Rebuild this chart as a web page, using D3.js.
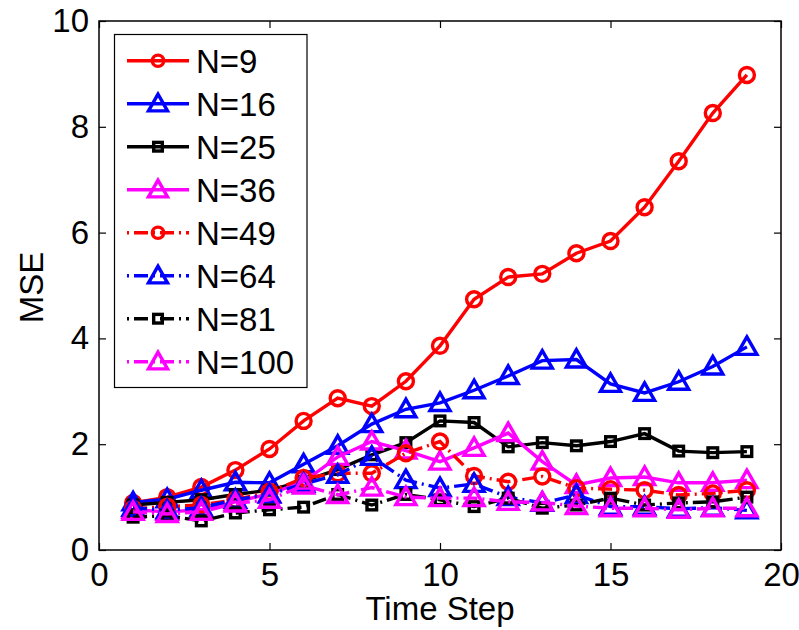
<!DOCTYPE html>
<html>
<head>
<meta charset="utf-8">
<script src="https://cdn.jsdelivr.net/npm/d3@7"></script>
<style>
  html, body { margin: 0; padding: 0; background: #fff; }
  svg { display: block; font-family: "Liberation Sans", Arial, Helvetica, sans-serif; }
</style>
</head>
<body>
<svg id="chart" width="799" height="630"></svg>
<script>
// ---- data ----
const timeSteps = [1,2,3,4,5,6,7,8,9,10,11,12,13,14,15,16,17,18,19];
const seriesNames = ["N=9","N=16","N=25","N=36","N=49","N=64","N=81","N=100"];
const n9   = [0.89,1.00,1.19,1.51,1.91,2.44,2.87,2.72,3.19,3.86,4.74,5.16,5.22,5.61,5.84,6.48,7.35,8.26,8.98];
const n16  = [0.90,0.96,1.13,1.28,1.27,1.62,1.97,2.38,2.66,2.78,3.02,3.29,3.58,3.60,3.14,2.97,3.18,3.47,3.84];
const n25  = [0.85,0.90,0.95,1.05,1.13,1.30,1.52,1.80,2.03,2.44,2.41,1.95,2.03,1.97,2.05,2.20,1.87,1.84,1.86];
const n36  = [0.76,0.72,0.76,0.91,1.06,1.29,1.76,2.05,1.88,1.67,1.93,2.21,1.67,1.23,1.36,1.38,1.27,1.27,1.32];
const n49  = [0.78,0.82,0.85,0.95,1.10,1.36,1.45,1.45,1.83,2.05,1.40,1.29,1.39,1.17,1.15,1.13,1.04,1.07,1.13];
const n64  = [0.80,0.75,0.80,0.95,1.05,1.25,1.42,1.76,1.32,1.17,1.25,1.00,0.89,1.04,0.82,0.82,0.78,0.80,0.75];
const n81  = [0.62,0.65,0.55,0.70,0.76,0.81,1.05,0.85,1.05,0.95,0.82,0.98,0.79,0.85,0.98,0.85,0.89,0.91,1.00];
const n100 = [0.72,0.68,0.72,0.88,0.95,1.22,1.04,1.18,1.00,0.98,0.98,0.91,0.90,0.83,0.79,0.79,0.76,0.79,0.79];
const seriesValues = [n9,n16,n25,n36,n49,n64,n81,n100];
const xTicks = [0,5,10,15,20];
const yTicks = [0,2,4,6,8,10];
const xLabel = "Time Step";
const yLabel = "MSE";

// ---- styles ----
const colors  = ["#ff0000","#0000ff","#000000","#ff00ff","#ff0000","#0000ff","#000000","#ff00ff"];
const markers = ["circle","triangle","square","triangle","circle","triangle","square","triangle"];
const dashed  = [false,false,false,false,true,true,true,true];

const svg = d3.select("#chart");
const L = 99, R = 781, T = 21, B = 550;
const x = d3.scaleLinear().domain([0,20]).range([L,R]);
const y = d3.scaleLinear().domain([0,10]).range([B,T]);
const FS = 33;
const LW = 3.4;

// axes
const gx = svg.append("g").attr("transform",`translate(0,${B})`)
  .call(d3.axisBottom(x).tickValues(xTicks).tickSize(-7).tickPadding(13));
const gxt = svg.append("g").attr("transform",`translate(0,${T})`)
  .call(d3.axisTop(x).tickValues(xTicks).tickSize(-7).tickFormat(""));
const gy = svg.append("g").attr("transform",`translate(${L},0)`)
  .call(d3.axisLeft(y).tickValues(yTicks).tickSize(-7).tickPadding(10));
const gyr = svg.append("g").attr("transform",`translate(${R},0)`)
  .call(d3.axisRight(y).tickValues(yTicks).tickSize(-7).tickFormat(""));
[gx,gxt,gy,gyr].forEach(g => {
  g.select(".domain").remove();
  g.selectAll(".tick line").attr("stroke","#000").attr("stroke-width",1.2);
  g.selectAll("text").attr("font-size",FS).attr("fill","#000")
    .attr("font-family","'Liberation Sans', Arial, sans-serif");
});
svg.append("rect").attr("x",L).attr("y",T).attr("width",R-L).attr("height",B-T)
  .attr("fill","none").attr("stroke","#000").attr("stroke-width",1.5);

// axis labels
svg.append("text").attr("x",(L+R)/2).attr("y",620).attr("text-anchor","middle")
  .attr("font-size",FS).text(xLabel);
svg.append("text").attr("transform",`translate(43,${(T+B)/2 + 2}) rotate(-90)`)
  .attr("text-anchor","middle").attr("font-size",FS).text(yLabel);

// marker drawing
function drawMarker(g, type, cx, cy, color, scale) {
  scale = scale || 1;
  if (type === "circle") {
    g.append("circle").attr("cx",cx).attr("cy",cy).attr("r",7.5*scale)
      .attr("fill","none").attr("stroke",color).attr("stroke-width",LW);
  } else if (type === "triangle") {
    const s = 10*scale;
    const pts = [[cx,cy-s],[cx-s*1.0,cy+s*0.75],[cx+s*1.0,cy+s*0.75]];
    g.append("polygon").attr("points",pts.map(p=>p.join(",")).join(" "))
      .attr("fill","none").attr("stroke",color).attr("stroke-width",LW).attr("stroke-linejoin","miter");
  } else {
    const s = 4.8*scale;
    g.append("rect").attr("x",cx-s).attr("y",cy-s).attr("width",2*s).attr("height",2*s)
      .attr("fill","none").attr("stroke",color).attr("stroke-width",LW);
  }
}

const dash = "14,5,2,5";
const line = d3.line().x((d,i)=>x(timeSteps[i])).y(d=>y(d));
const plot = svg.append("g");
seriesValues.forEach((vals, si) => {
  const g = plot.append("g");
  g.append("path").datum(vals).attr("d",line).attr("fill","none")
    .attr("stroke",colors[si]).attr("stroke-width",LW)
    .attr("stroke-dasharray", dashed[si] ? dash : null);
  vals.forEach((v,i) => drawMarker(g, markers[si], x(timeSteps[i]), y(v), colors[si]));
});

// legend
const lg = svg.append("g");
lg.append("rect").attr("x",114.5).attr("y",34.5).attr("width",192.5).attr("height",353)
  .attr("fill","#fff").attr("stroke","#000").attr("stroke-width",1.2);
seriesNames.forEach((name, si) => {
  const cy = 60.7 + si*43;
  lg.append("line").attr("x1",127).attr("x2",189).attr("y1",cy).attr("y2",cy)
    .attr("stroke",colors[si]).attr("stroke-width",LW)
    .attr("stroke-dasharray", dashed[si] ? "2,5,14,5" : null);
  drawMarker(lg, markers[si], 158, cy, colors[si], markers[si]==="circle" ? 0.75 : (markers[si]==="square" ? 0.9 : 0.95));
  lg.append("text").attr("x",196).attr("y",cy).attr("dy","0.36em")
    .attr("font-size",FS).text(name);
});
</script>
</body>
</html>
